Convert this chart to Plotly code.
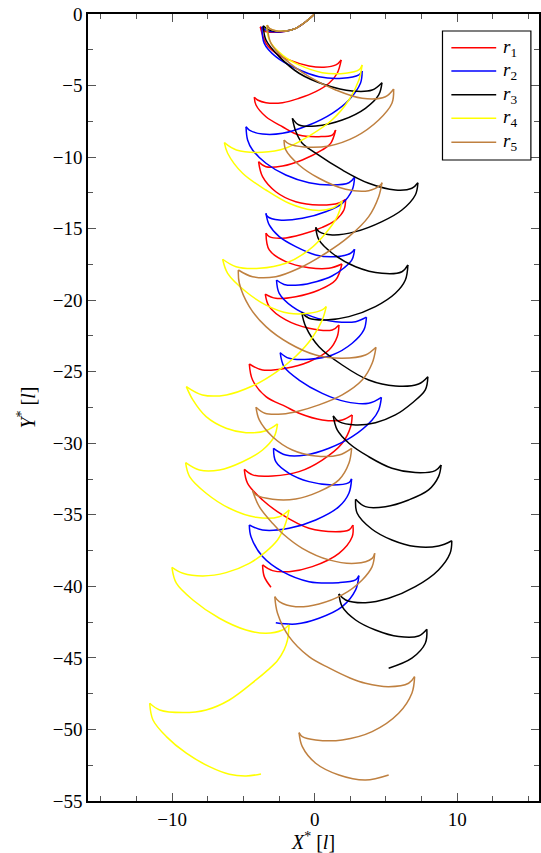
import plotly.graph_objects as go

# Each series: list of arcs between cusps, points (X*, Y*)
R1_ARCS = [
    [(0, 0), (-0.63, -0.54), (-1.33, -1.0), (-2.03, -1.2), (-2.8, -1.28), (-3.45, -1.22), (-3.82, -0.89)],
    [(-3.82, -0.89), (-3.42, -2.05), (-2.73, -2.73), (-1.80, -3.21), (-0.40, -3.63), (0.65, -3.72), (1.49, -3.56), (1.86, -3.21)],
    [(1.86, -3.21), (1.58, -4.14), (1.00, -4.84), (0.07, -5.43), (-1.10, -5.89), (-2.26, -6.20), (-3.42, -6.20), (-4.01, -6.01), (-4.24, -5.82)],
    [(-4.24, -5.82), (-4.12, -6.36), (-3.42, -7.18), (-2.26, -7.88), (-1.10, -8.46), (0.30, -8.57), (1.23, -8.46), (1.47, -8.11)],
    [(1.47, -8.11), (1.12, -9.04), (0.53, -9.50), (-0.87, -10.20), (-2.26, -10.62), (-3.42, -10.67), (-3.94, -10.32)],
    [(-3.94, -10.32), (-3.66, -11.37), (-2.73, -12.42), (-1.33, -13.12), (0.30, -13.35), (1.70, -13.21), (2.17, -12.95)],
    [(2.17, -12.95), (2.05, -13.70), (1.47, -14.40), (0.53, -14.91), (-0.87, -15.39), (-2.26, -15.67), (-3.19, -15.56), (-3.42, -15.32)],
    [(-3.42, -15.32), (-3.19, -16.49), (-2.03, -17.31), (-0.40, -17.73), (1.00, -17.77), (1.91, -17.47)],
    [(1.91, -17.47), (1.47, -18.59), (0.30, -19.29), (-1.33, -19.76), (-2.73, -19.87), (-3.47, -19.57)],
    [(-3.47, -19.57), (-3.19, -20.45), (-2.03, -21.38), (-0.40, -21.96), (1.23, -22.08), (1.70, -21.73)],
    [(1.70, -21.73), (1.58, -22.55), (1.00, -23.48), (-0.40, -24.30), (-2.03, -24.76), (-3.66, -24.88), (-4.59, -24.46)],
    [(-4.59, -24.46), (-4.36, -25.58), (-3.42, -26.74), (-2.03, -27.44), (-1.10, -27.90), (0.53, -28.37), (1.93, -28.37), (2.63, -28.02)],
    [(2.63, -28.02), (2.52, -28.84), (1.93, -30.00), (0.53, -31.17), (-1.10, -31.98), (-2.96, -32.28), (-4.36, -32.21), (-4.94, -31.82)],
    [(-4.94, -31.82), (-4.71, -32.80), (-3.66, -33.96), (-2.26, -35.01), (-0.40, -35.94), (1.47, -36.18), (2.40, -36.06), (2.68, -35.71)],
    [(2.68, -35.71), (2.63, -36.53), (1.70, -37.69), (-0.17, -38.62), (-1.80, -38.97), (-2.96, -38.90), (-3.66, -38.50)],
    [(-3.66, -38.50), (-3.54, -39.32), (-3.07, -40.06)],
]

R2_ARCS = [
    [(0, 0), (-0.63, -0.54), (-1.33, -1.0), (-2.03, -1.2), (-2.75, -1.25), (-3.35, -1.18), (-3.70, -0.89)],
    [(-3.70, -0.89), (-3.54, -2.05), (-2.73, -2.98), (-1.33, -3.79), (0.30, -4.38), (1.93, -4.49), (3.10, -4.26), (3.33, -3.98)],
    [(3.33, -3.98), (3.21, -4.84), (2.40, -6.01), (1.23, -6.94), (-0.40, -7.76), (-2.26, -8.34), (-3.66, -8.39), (-4.59, -8.11), (-4.82, -7.88)],
    [(-4.82, -7.88), (-4.71, -8.80), (-4.36, -9.50), (-3.42, -10.43), (-2.03, -11.25), (-0.40, -11.79), (1.23, -11.95), (2.40, -11.79), (2.80, -11.41)],
    [(2.80, -11.41), (2.63, -12.30), (1.93, -13.23), (0.77, -13.82), (-0.87, -14.28), (-2.49, -14.40), (-3.31, -14.16), (-3.42, -13.93)],
    [(-3.42, -13.93), (-3.19, -14.74), (-2.49, -15.56), (-1.33, -16.26), (0.07, -16.84), (1.47, -16.96), (2.52, -16.72), (2.80, -16.44)],
    [(2.80, -16.44), (2.61, -17.19), (2.05, -17.75), (1.21, -18.31), (0.16, -18.69), (-1.10, -18.94), (-2.15, -18.90), (-2.68, -18.59)],
    [(-2.68, -18.59), (-2.49, -19.52), (-1.57, -20.45), (-0.17, -21.15), (1.47, -21.50), (2.87, -21.50), (3.63, -21.19)],
    [(3.63, -21.19), (3.45, -22.08), (2.63, -23.01), (1.23, -23.83), (-0.40, -24.13), (-1.80, -24.06), (-2.42, -23.67)],
    [(-2.42, -23.67), (-2.15, -24.65), (-1.10, -25.58), (0.53, -26.51), (2.17, -27.09), (3.79, -27.20), (4.68, -26.79)],
    [(4.68, -26.79), (4.49, -27.67), (4.03, -28.37), (2.63, -29.54), (1.00, -30.35), (-0.63, -30.82), (-2.03, -30.82), (-2.89, -30.35)],
    [(-2.89, -30.35), (-2.73, -31.29), (-1.80, -32.10), (-0.40, -32.68), (1.23, -32.91), (2.40, -32.75), (2.59, -32.49)],
    [(2.59, -32.49), (2.40, -33.49), (1.70, -34.43), (0.07, -35.36), (-1.80, -35.94), (-3.66, -36.06), (-4.59, -35.71)],
    [(-4.59, -35.71), (-4.47, -36.53), (-3.66, -37.92), (-2.26, -38.97), (-0.40, -39.67), (1.70, -39.74), (2.87, -39.55), (3.10, -39.25)],
    [(3.10, -39.25), (2.87, -40.25), (1.93, -41.42), (0.30, -42.23), (-1.33, -42.63), (-2.73, -42.54)],
]

R3_ARCS = [
    [(0, 0), (-0.63, -0.54), (-1.33, -1.0), (-2.03, -1.19), (-2.73, -1.2), (-3.25, -1.1), (-3.61, -0.82)],
    [(-3.61, -0.82), (-3.42, -1.82), (-2.49, -2.98), (-1.10, -4.14), (0.77, -4.96), (2.63, -5.38), (4.03, -5.31), (4.72, -4.80)],
    [(4.72, -4.80), (4.49, -5.66), (3.56, -6.59), (1.93, -7.41), (0.07, -7.83), (-1.10, -7.76), (-1.57, -7.29)],
    [(-1.57, -7.29), (-1.31, -8.25), (-0.89, -9.01), (0.07, -9.73), (1.93, -10.90), (3.79, -11.83), (5.66, -12.30), (6.82, -12.18), (7.24, -11.79)],
    [(7.24, -11.79), (7.06, -12.65), (6.12, -13.70), (4.72, -14.51), (2.87, -15.21), (1.23, -15.44), (0.30, -15.21), (0.07, -14.91)],
    [(0.07, -14.91), (0.30, -15.79), (1.23, -16.72), (2.87, -17.66), (4.72, -18.12), (6.12, -18.01), (6.54, -17.54)],
    [(6.54, -17.54), (6.36, -18.59), (5.66, -19.52), (4.26, -20.45), (2.40, -21.15), (0.77, -21.38), (-0.40, -21.26), (-0.91, -20.87)],
    [(-0.91, -20.87), (-0.63, -21.85), (0.30, -23.25), (1.93, -24.53), (3.79, -25.58), (5.66, -26.00), (7.29, -25.86), (7.94, -25.35)],
    [(7.94, -25.35), (7.76, -26.27), (6.82, -27.20), (5.66, -28.02), (4.26, -28.56), (2.87, -28.72), (1.70, -28.49), (1.30, -28.09)],
    [(1.30, -28.09), (1.58, -29.07), (2.40, -30.00), (3.79, -30.94), (5.42, -31.75), (7.06, -32.05), (8.46, -31.91), (8.87, -31.52)],
    [(8.87, -31.52), (8.69, -32.33), (7.99, -33.26), (6.59, -33.96), (4.96, -34.43), (3.56, -34.43), (2.87, -33.91)],
    [(2.87, -33.91), (2.98, -34.89), (4.00, -35.99), (5.42, -36.76), (7.06, -37.22), (8.69, -37.18), (9.62, -36.81)],
    [(9.62, -36.81), (9.50, -37.69), (8.69, -38.85), (7.06, -40.02), (5.19, -40.83), (3.56, -41.14), (2.17, -40.95), (1.70, -40.53)],
    [(1.70, -40.53), (1.93, -41.42), (2.87, -42.35), (4.26, -43.05), (5.89, -43.51), (7.29, -43.47), (7.87, -43.00)],
    [(7.87, -43.00), (7.76, -43.98), (6.82, -45.02), (5.19, -45.72)],
]

R4_ARCS = [
    [(0, 0), (-0.63, -0.54), (-1.33, -1.0), (-2.03, -1.19), (-2.73, -1.17), (-3.15, -1.02), (-3.35, -0.77)],
    [(-3.35, -0.77), (-3.19, -1.82), (-2.26, -2.87), (-1.10, -3.56), (0.53, -4.10), (2.17, -4.14), (3.10, -3.91), (3.33, -3.56)],
    [(3.33, -3.56), (3.10, -4.61), (2.40, -6.01), (1.21, -7.41), (-0.40, -8.53), (-2.01, -9.36), (-3.68, -9.66), (-5.50, -9.50), (-6.34, -8.99)],
    [(-6.34, -8.99), (-6.11, -9.73), (-5.06, -11.13), (-3.42, -12.30), (-1.80, -13.23), (-0.17, -13.70), (1.23, -13.58), (1.93, -13.07)],
    [(1.93, -13.07), (1.58, -14.16), (0.77, -15.32), (-0.40, -16.49), (-2.03, -17.42), (-3.89, -17.77), (-5.52, -17.66), (-6.46, -17.14)],
    [(-6.46, -17.14), (-6.11, -18.12), (-4.82, -19.41), (-3.42, -20.34), (-1.80, -20.92), (-0.40, -20.92), (0.53, -20.68), (0.81, -20.45)],
    [(0.81, -20.45), (0.53, -21.38), (-0.19, -22.64), (-1.31, -23.90), (-2.70, -25.02), (-4.38, -26.00), (-6.20, -26.62), (-7.88, -26.62), (-9.01, -26.04)],
    [(-9.01, -26.04), (-8.55, -26.97), (-7.62, -28.14), (-6.22, -28.95), (-4.82, -29.26), (-3.42, -29.12), (-2.61, -28.65)],
    [(-2.61, -28.65), (-2.84, -29.54), (-3.66, -30.47), (-5.06, -31.29), (-6.69, -31.87), (-8.09, -31.87), (-9.06, -31.36)],
    [(-9.06, -31.36), (-8.78, -32.33), (-7.62, -33.49), (-5.99, -34.54), (-4.12, -35.17), (-2.49, -35.13), (-1.80, -34.66)],
    [(-1.80, -34.66), (-2.01, -35.50), (-2.29, -36.20), (-2.61, -36.76), (-3.42, -37.57), (-4.59, -38.39), (-6.22, -39.04), (-7.85, -39.27), (-9.25, -39.08), (-10.02, -38.67)],
    [(-10.02, -38.67), (-9.71, -39.78), (-8.55, -40.95), (-6.69, -42.23), (-4.82, -43.05), (-3.42, -43.28), (-2.26, -43.05), (-1.80, -42.70)],
    [(-1.80, -42.70), (-1.91, -43.75), (-2.15, -44.44), (-2.62, -45.20), (-3.30, -45.85), (-4.12, -46.54), (-5.99, -47.94), (-7.62, -48.64), (-9.25, -48.82), (-10.88, -48.64), (-11.58, -48.17)],
    [(-11.58, -48.17), (-11.35, -49.34), (-10.41, -50.50), (-9.01, -51.66), (-7.39, -52.60), (-5.99, -53.13), (-4.82, -53.25), (-3.77, -53.11)],
]

R5_ARCS = [
    [(0, 0), (-0.63, -0.54), (-1.33, -1.0), (-2.03, -1.19), (-2.73, -1.17), (-3.15, -1.02), (-3.33, -0.77)],
    [(-3.33, -0.77), (-3.07, -2.05), (-2.03, -3.21), (-0.40, -4.38), (1.47, -5.31), (3.33, -5.89), (4.96, -5.78), (5.54, -5.24)],
    [(5.54, -5.24), (5.42, -6.24), (4.49, -7.41), (2.87, -8.57), (1.00, -9.22), (-0.75, -9.29), (-1.80, -9.08), (-2.15, -8.80)],
    [(-2.15, -8.80), (-2.03, -9.50), (-1.10, -10.55), (0.30, -11.48), (2.17, -12.25), (3.79, -12.35), (4.61, -11.95), (4.72, -11.79)],
    [(4.72, -11.79), (4.49, -12.77), (3.79, -14.16), (2.40, -15.56), (0.77, -16.72), (-1.10, -17.77), (-2.73, -18.36), (-4.36, -18.36), (-5.36, -17.89)],
    [(-5.36, -17.89), (-5.29, -18.82), (-4.59, -20.45), (-3.42, -21.85), (-1.80, -23.01), (0.07, -23.83), (1.93, -24.06), (3.56, -23.83), (4.30, -23.29)],
    [(4.30, -23.29), (4.03, -24.41), (3.33, -25.58), (1.93, -26.62), (0.30, -27.32), (-1.10, -27.74), (-2.26, -27.95), (-3.50, -27.90), (-4.12, -27.48)],
    [(-4.12, -27.48), (-3.89, -28.37), (-2.96, -29.54), (-1.57, -30.47), (0.07, -30.89), (1.70, -30.82), (2.59, -30.35)],
    [(2.59, -30.35), (2.40, -31.40), (1.70, -32.56), (0.30, -33.38), (-1.33, -33.89), (-2.96, -33.91), (-4.12, -33.61), (-4.36, -33.31)],
    [(-4.36, -33.31), (-3.89, -34.43), (-2.96, -35.59), (-2.22, -36.34), (-0.87, -37.34), (1.00, -38.15), (2.87, -38.39), (4.03, -38.04), (4.21, -37.69)],
    [(4.21, -37.69), (4.03, -38.62), (3.33, -39.55), (1.93, -40.60), (0.30, -41.23), (-1.33, -41.42), (-2.49, -41.07), (-2.80, -40.72)],
    [(-2.80, -40.72), (-2.61, -41.88), (-1.80, -43.51), (-0.40, -44.91), (1.00, -45.70), (2.47, -46.40), (3.56, -46.77), (5.19, -47.01), (6.59, -46.77), (7.01, -46.31)],
    [(7.01, -46.31), (6.82, -47.47), (5.89, -48.87), (4.03, -50.15), (1.93, -50.73), (0.07, -50.73), (-0.87, -50.50), (-1.10, -50.22)],
    [(-1.10, -50.22), (-0.87, -51.20), (0.07, -52.36), (1.70, -53.18), (3.56, -53.53), (5.19, -53.18)],
]

SERIES_NAMES = ["<i>r</i><sub>1</sub>", "<i>r</i><sub>2</sub>", "<i>r</i><sub>3</sub>",
                "<i>r</i><sub>4</sub>", "<i>r</i><sub>5</sub>"]
SERIES_COLORS = ["#ff0000", "#0000ff", "#000000", "#ffff00", "#bf8040"]

X_RANGE = [-15.91, 15.74]
Y_RANGE = [-55, 0]


def flatten(arcs):
    xs, ys = [], []
    for arc in arcs:
        for x, y in arc:
            xs.append(x)
            ys.append(y)
        xs.append(None)
        ys.append(None)
    return xs, ys


FONT = "Liberation Serif"

fig = go.Figure()
for arcs, name, color in zip([R1_ARCS, R2_ARCS, R3_ARCS, R4_ARCS, R5_ARCS], SERIES_NAMES, SERIES_COLORS):
    xs, ys = flatten(arcs)
    fig.add_trace(go.Scatter(
        x=xs, y=ys, mode="lines", name=name, connectgaps=False, showlegend=False,
        line=dict(color=color, width=1.5, shape="spline", smoothing=1.0),
    ))

# Legend box drawn in the plot's top-right corner (paper coordinates)
LEG_X0, LEG_X1, LEG_Y0, LEG_Y1 = 0.786, 0.982, 0.8145, 0.9784
LEG_ROWS = [0.9572, 0.9276, 0.8975, 0.8675, 0.8370]
shapes = [dict(type="rect", xref="paper", yref="paper", x0=LEG_X0, x1=LEG_X1, y0=LEG_Y0, y1=LEG_Y1,
               line=dict(color="black", width=1.2), fillcolor="white", layer="above")]
annotations = []
for yrow, name, color in zip(LEG_ROWS, SERIES_NAMES, SERIES_COLORS):
    shapes.append(dict(type="line", xref="paper", yref="paper", x0=0.8057, x1=0.9051, y0=yrow, y1=yrow,
                       line=dict(color=color, width=1.5), layer="above"))
    annotations.append(dict(xref="paper", yref="paper", x=0.9150, y=yrow, xanchor="left", yanchor="middle",
                            text=name, showarrow=False, font=dict(family=FONT, size=19, color="black")))

axis_common = dict(
    showgrid=False, zeroline=False, showline=True, linecolor="black", linewidth=1.5,
    mirror="ticks", ticks="inside", ticklen=8, tickwidth=1, tickcolor="#555",
    tickfont=dict(family=FONT, size=19, color="black"),
)

fig.update_layout(
    width=541, height=853,
    margin=dict(l=88, r=0, t=14, b=52),
    paper_bgcolor="white", plot_bgcolor="white",
    font=dict(family=FONT, color="black"),
    showlegend=False,
    shapes=shapes, annotations=annotations,
    xaxis=dict(range=X_RANGE, tick0=0, dtick=10,
               minor=dict(ticks="inside", ticklen=5, tick0=0, dtick=2.5, tickcolor="#555", tickwidth=1),
               title=dict(text="<i>X</i><sup>*</sup> [<i>l</i>]", font=dict(family=FONT, size=20), standoff=0),
               **axis_common),
    yaxis=dict(range=Y_RANGE, tick0=0, dtick=5,
               minor=dict(ticks="inside", ticklen=5, tick0=0, dtick=2.5, tickcolor="#555", tickwidth=1),
               title=dict(text="<i>Y</i><sup>*</sup> [<i>l</i>]", font=dict(family=FONT, size=20), standoff=12),
               **axis_common),
)

fig.write_html("out.html")
